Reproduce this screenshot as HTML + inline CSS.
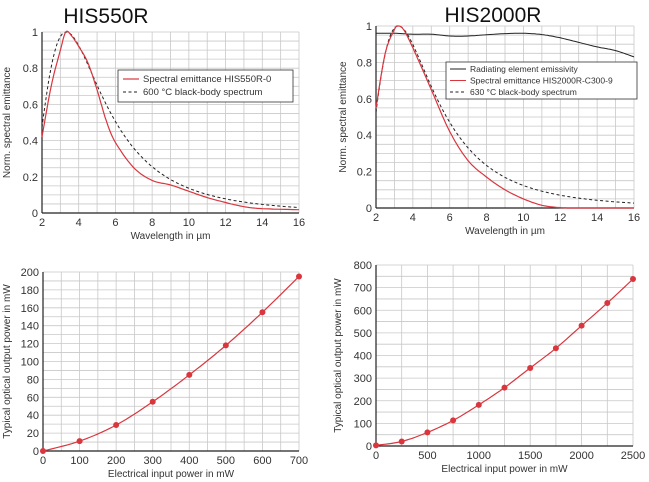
<!DOCTYPE html>
<html><head><meta charset="utf-8">
<style>
html,body{margin:0;padding:0;background:#fff;}
svg{display:block;font-family:"Liberation Sans",sans-serif;}
</style></head>
<body>
<svg id="s" width="649" height="482" viewBox="0 0 649 482" xmlns="http://www.w3.org/2000/svg">
<text x="106" y="23" font-size="21" text-anchor="middle" fill="#111">HIS550R</text>
<text x="493" y="22" font-size="21" text-anchor="middle" fill="#111">HIS2000R</text>
</svg>
<script>
const S=document.getElementById('s');const NS='http://www.w3.org/2000/svg';
function el(t,a,txt){const e=document.createElementNS(NS,t);for(const k in a)e.setAttribute(k,a[k]);if(txt!==undefined)e.textContent=txt;S.appendChild(e);return e;}
function interp(pts){
 const out=[];for(let i=0;i<pts.length-1;i++){const p0=pts[Math.max(0,i-1)],p1=pts[i],p2=pts[i+1],p3=pts[Math.min(pts.length-1,i+2)];
 for(let t=0;t<1;t+=0.1){const t2=t*t,t3=t2*t;const f=(a,b,c,d)=>0.5*(2*b+(-a+c)*t+(2*a-5*b+4*c-d)*t2+(-a+3*b-3*c+d)*t3);out.push([f(p0[0],p1[0],p2[0],p3[0]),f(p0[1],p1[1],p2[1],p3[1])]);}}
 out.push(pts[pts.length-1]);return out;}
function chart(c){
 const X=v=>c.x0+(v-c.xmin)/(c.xmax-c.xmin)*(c.x1-c.x0);
 const Y=v=>c.y0+(v-c.ymin)/(c.ymax-c.ymin)*(c.y1-c.y0);
 for(let v=c.xmin;v<=c.xmax+1e-9;v+=c.gx)el('line',{x1:X(v),x2:X(v),y1:c.y0,y2:c.y1,stroke:'#c8c8c8','stroke-width':0.8});
 for(let v=c.ymin;v<=c.ymax+1e-9;v+=c.gy)el('line',{x1:c.x0,x2:c.x1,y1:Y(v),y2:Y(v),stroke:'#c8c8c8','stroke-width':0.8});
 el('line',{x1:c.x0,x2:c.x1,y1:c.y0,y2:c.y0,stroke:'#222','stroke-width':1.2});
 el('line',{x1:c.x0,x2:c.x0,y1:c.y0,y2:c.y1,stroke:'#222','stroke-width':1.2});
 c.xt.forEach(v=>el('text',{x:X(v),y:c.y0+13,'font-size':11,'text-anchor':'middle',fill:'#333'},v));
 c.yt.forEach(v=>el('text',{x:c.x0-4,y:Y(v)+4,'font-size':11,'text-anchor':'end',fill:'#333'},v));
 el('text',{x:(c.x0+c.x1)/2,y:c.y0+26,'font-size':10,'text-anchor':'middle',fill:'#333'},c.xl);
 const cy=(c.y0+c.y1)/2;el('text',{x:c.ylx,y:cy,'font-size':10,'text-anchor':'middle',fill:'#333',transform:`rotate(-90 ${c.ylx} ${cy})`},c.yl);
 c.series.forEach(s=>{
  const line=s.dots?interp(s.pts):s.pts;
  const d=line.map((p,i)=>(i?'L':'M')+X(p[0]).toFixed(1)+','+Y(p[1]).toFixed(1)).join('');
  el('path',{d:d,fill:'none',stroke:s.col,'stroke-width':s.w||1.2,'stroke-dasharray':s.dash||'none'});
  if(s.dots)s.pts.forEach(p=>el('circle',{cx:X(p[0]),cy:Y(p[1]),r:3,fill:'#d9363e'}));
 });
}
function bb(T){const lm=2898/T,xm=4.965,pts=[];for(let l=2;l<=16.001;l+=0.1){const x=14388/(l*T);pts.push([l,Math.pow(lm/l,5)*(Math.exp(xm)-1)/(Math.exp(x)-1)]);}return pts;}
const red='#d9363e';
chart({x0:42,x1:299,y0:213,y1:32,xmin:2,xmax:16,ymin:0,ymax:1,gx:1,gy:0.05,xt:[2,4,6,8,10,12,14,16],yt:[0,0.2,0.4,0.6,0.8,1],xl:'Wavelength in µm',yl:'Norm. spectral emittance',ylx:10,
 series:[{pts:bb(873),col:'#222',dash:'3,2.5',w:1},
 {pts:interp([[2,0.42],[2.5,0.7],[3,0.9],[3.3,1],[3.6,0.98],[4,0.92],[4.5,0.83],[5,0.68],[5.5,0.51],[6,0.39],[7,0.25],[8,0.18],[9,0.155],[10,0.12],[11,0.085],[12,0.058],[13,0.035],[14,0.024],[16,0.018]]),col:red}]});
chart({x0:376,x1:634,y0:208,y1:26,xmin:2,xmax:16,ymin:0,ymax:1,gx:1,gy:0.05,xt:[2,4,6,8,10,12,14,16],yt:[0,0.2,0.4,0.6,0.8,1],xl:'Wavelength in µm',yl:'Norm. spectral emittance',ylx:346,
 series:[{pts:bb(903),col:'#222',dash:'3,2.5',w:1},
 {pts:interp([[2,0.96],[3,0.96],[4,0.955],[5,0.955],[6,0.945],[7,0.945],[8,0.952],[9,0.958],[10,0.96],[11,0.953],[12,0.935],[13,0.91],[14,0.885],[15,0.865],[16,0.83]]),col:'#222',w:1},
 {pts:interp([[2,0.55],[2.5,0.85],[3,0.98],[3.2,1],[3.5,0.98],[4,0.88],[5,0.65],[6,0.42],[7,0.26],[8,0.17],[9,0.1],[10,0.05],[11,0.015],[12,0.002],[13,0],[16,0]]),col:red}]});
chart({x0:43,x1:299,y0:451,y1:272,xmin:0,xmax:700,ymin:0,ymax:200,gx:50,gy:10,xt:[0,100,200,300,400,500,600,700],yt:[0,20,40,60,80,100,120,140,160,180,200],xl:'Electrical input power in mW',yl:'Typical optical output power in mW',ylx:10,
 series:[{pts:[[0,0],[100,11],[200,29],[300,55],[400,85],[500,118],[600,155],[700,195]],col:red,dots:1}]});
chart({x0:376,x1:633,y0:446,y1:265,xmin:0,xmax:2500,ymin:0,ymax:800,gx:250,gy:50,xt:[0,500,1000,1500,2000,2500],yt:[0,100,200,300,400,500,600,700,800],xl:'Electrical input power in mW',yl:'Typical optical output power in mW',ylx:341,
 series:[{pts:[[0,3],[250,20],[500,60],[750,113],[1000,182],[1250,258],[1500,345],[1750,432],[2000,532],[2250,632],[2500,738]],col:red,dots:1}]});
el('rect',{x:118,y:70,width:175,height:32,fill:'#fff',stroke:'#333','stroke-width':0.8});
el('line',{x1:123,x2:139,y1:79,y2:79,stroke:red,'stroke-width':1.2});
el('text',{x:143,y:82,'font-size':9.5,fill:'#333'},'Spectral emittance HIS550R-0');
el('line',{x1:123,x2:139,y1:92,y2:92,stroke:'#222','stroke-dasharray':'3,2.5'});
el('text',{x:143,y:95,'font-size':9.5,fill:'#333'},'600 °C black-body spectrum');
el('rect',{x:446,y:62,width:191,height:37,fill:'#fff',stroke:'#333','stroke-width':0.8});
[['Radiating element emissivity','#222',null],['Spectral emittance HIS2000R-C300-9',red,null],['630 °C black-body spectrum','#222','3,2.5']].forEach((r,i)=>{
 const y=69+i*11.5;el('line',{x1:450,x2:466,y1:y,y2:y,stroke:r[1],'stroke-width':1,'stroke-dasharray':r[2]||'none'});
 el('text',{x:470,y:y+3,'font-size':8.5,fill:'#333'},r[0]);});
</script>
</body></html>
